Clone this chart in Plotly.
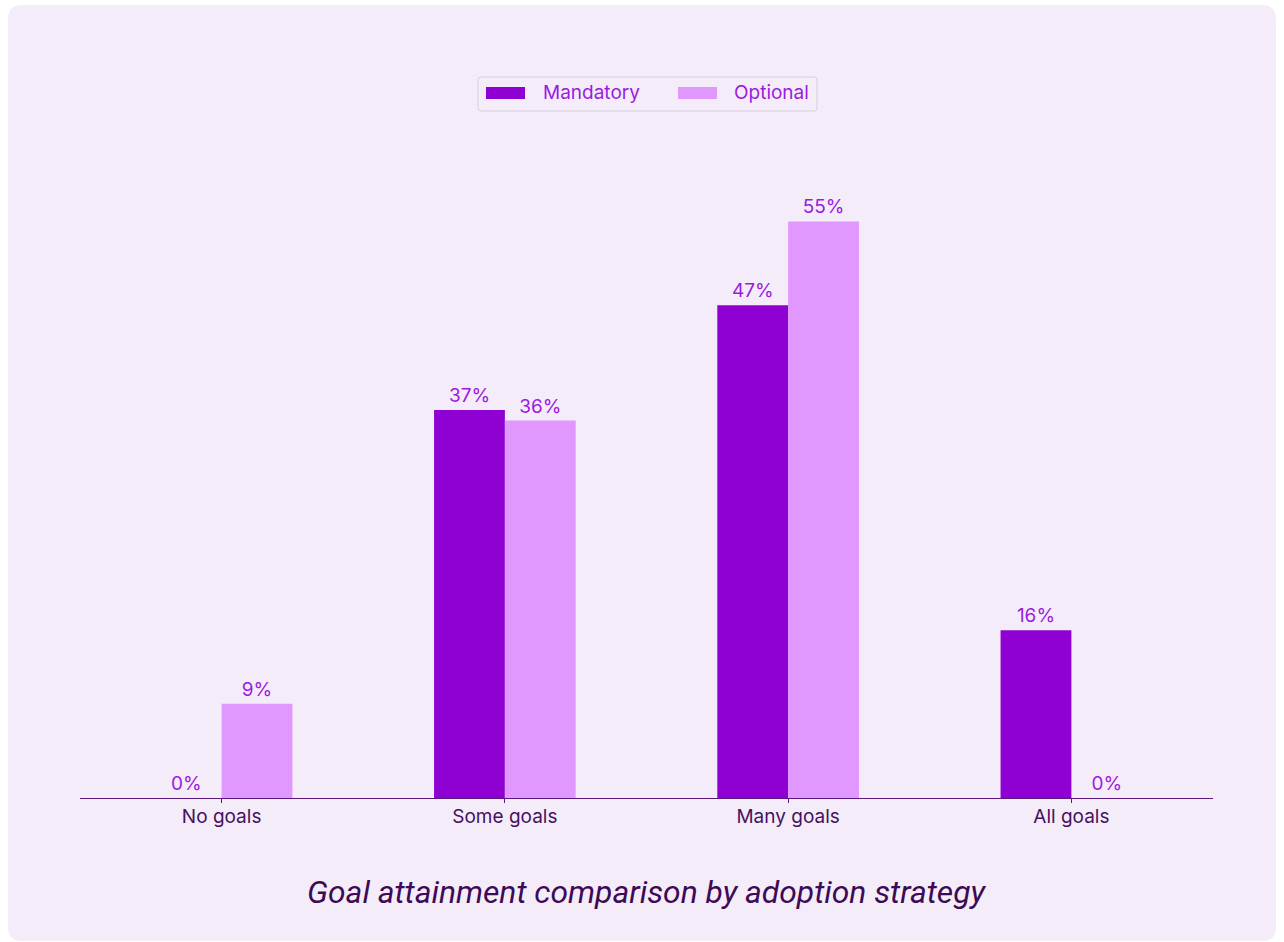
import plotly.graph_objects as go

categories = ["No goals", "Some goals", "Many goals", "All goals"]
mandatory = [0, 37, 47, 16]
optional = [9, 36, 55, 0]
series_names = ["Mandatory", "Optional"]

W, H = 1284, 942
ML, MR, MT, MB = 80, 71, 169, 144
PW, PH = W - ML - MR, H - MT - MB

DARK = "#8F00D3"
LIGHT = "#E097FE"
LABEL = "#9B1BE0"
INK = "#46115F"
CARD = "#F4ECF8"


def px_x(x):
    return (x - ML) / PW


def px_y(y):
    return (H - MB - y) / PH


def rounded_rect(x0, y0, x1, y1, r):
    pts = [
        f"M {px_x(x0 + r)} {px_y(y0)}",
        f"L {px_x(x1 - r)} {px_y(y0)}",
        f"Q {px_x(x1)} {px_y(y0)} {px_x(x1)} {px_y(y0 + r)}",
        f"L {px_x(x1)} {px_y(y1 - r)}",
        f"Q {px_x(x1)} {px_y(y1)} {px_x(x1 - r)} {px_y(y1)}",
        f"L {px_x(x0 + r)} {px_y(y1)}",
        f"Q {px_x(x0)} {px_y(y1)} {px_x(x0)} {px_y(y1 - r)}",
        f"L {px_x(x0)} {px_y(y0 + r)}",
        f"Q {px_x(x0)} {px_y(y0)} {px_x(x0 + r)} {px_y(y0)}",
        "Z",
    ]
    return " ".join(pts)


label_font = dict(family="Inter, sans-serif", size=19, color=LABEL)

fig = go.Figure()
colors = [DARK, LIGHT]
for name, vals, col in zip(series_names, [mandatory, optional], colors):
    fig.add_trace(go.Bar(
        name=name,
        x=categories,
        y=vals,
        marker=dict(color=col, line=dict(width=0)),
        text=[f"{v}%" for v in vals],
        textposition="outside",
        textfont=label_font,
        cliponaxis=False,
        showlegend=False,
    ))

# card background
shapes = [dict(
    type="path",
    path=rounded_rect(8, 5, 1276, 941, 14),
    xref="paper", yref="paper",
    fillcolor=CARD,
    line=dict(width=0),
    layer="below",
)]

# legend box with wide swatches
shapes.append(dict(
    type="path",
    path=rounded_rect(478, 77, 817, 111, 3),
    xref="paper", yref="paper",
    fillcolor=CARD,
    line=dict(color="#D6CEDB", width=1),
    layer="above",
))
annotations = []
legend_items = [(486, 541), (678, 732)]
for (sx, tx), name, col in zip(legend_items, series_names, colors):
    shapes.append(dict(
        type="rect",
        x0=px_x(sx), x1=px_x(sx + 39),
        y0=px_y(87), y1=px_y(99),
        xref="paper", yref="paper",
        fillcolor=col,
        line=dict(width=0),
        layer="above",
    ))
    annotations.append(dict(
        text=name,
        x=px_x(tx), y=px_y(93),
        xref="paper", yref="paper",
        xanchor="left", yanchor="middle",
        showarrow=False,
        font=dict(family="Inter, sans-serif", size=19, color=LABEL),
    ))

annotations.append(dict(
    text="<i>Goal attainment comparison by adoption strategy</i>",
    x=0.5, xref="paper",
    y=px_y(892), yref="paper",
    xanchor="center", yanchor="middle",
    showarrow=False,
    font=dict(family="Roboto, sans-serif", size=31.8, color="#3D0A57"),
))

fig.update_layout(
    width=W,
    height=H,
    margin=dict(l=ML, r=MR, t=MT, b=MB),
    paper_bgcolor="white",
    plot_bgcolor="rgba(0,0,0,0)",
    barmode="group",
    bargap=0.5,
    bargroupgap=0,
    showlegend=False,
    xaxis=dict(
        showgrid=False,
        showline=True,
        linecolor="#5B1A7D",
        linewidth=1,
        ticks="outside",
        ticklen=4,
        tickcolor="#5B1A7D",
        ticklabelstandoff=-3,
        tickfont=dict(family="Inter, sans-serif", size=19, color=INK),
    ),
    yaxis=dict(
        range=[0, 60],
        visible=False,
        showgrid=False,
        zeroline=False,
    ),
    shapes=shapes,
    annotations=annotations,
)

fig.write_html("out.html")
